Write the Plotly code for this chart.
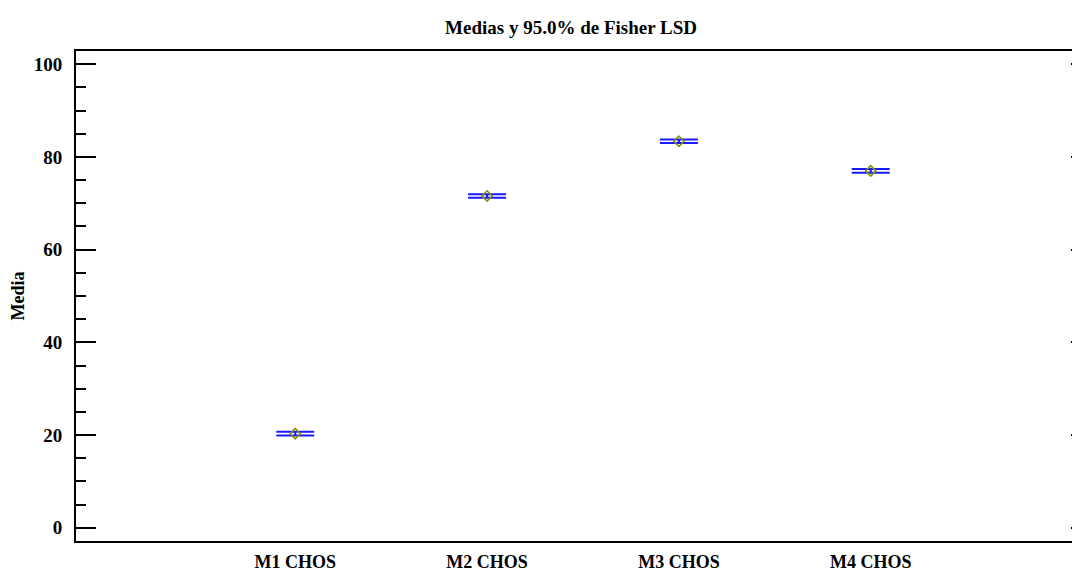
import plotly.graph_objects as go

categories = ["M1 CHOS", "M2 CHOS", "M3 CHOS", "M4 CHOS"]
means = [20.3, 71.6, 83.4, 77.0]
half_interval = [0.38, 0.38, 0.38, 0.38]
y_ticks = [0, 20, 40, 60, 80, 100]

FONT = "Liberation Serif"
idx = list(range(len(categories)))

# the page body has an 8px margin, so the figure is sized/offset to compensate
W, H = 1072, 565

fig = go.Figure()
fig.add_trace(go.Scatter(
    x=idx, y=means, mode="markers",
    marker=dict(symbol="diamond-open", size=8, color="#8c8c00", line=dict(width=1.5)),
    error_y=dict(type="data", array=half_interval, symmetric=True,
                 color="#1a1aff", thickness=2, width=19),
    showlegend=False, hoverinfo="x+y",
))
fig.add_trace(go.Scatter(x=[idx[0]], y=[means[0]], yaxis="y2", mode="markers",
                         marker=dict(opacity=0), showlegend=False, hoverinfo="skip"))

fig.update_layout(
    width=W, height=H,
    margin=dict(l=68, r=0, t=43, b=32, autoexpand=False),
    paper_bgcolor="white", plot_bgcolor="white",
    font=dict(family=FONT, size=19, color="black"),
    title=dict(text="<b>Medias y 95.0% de Fisher LSD</b>", x=(571 - 76) / 1004, xref="paper",
               xanchor="center", y=1 - 19 / H, yref="container", yanchor="middle",
               font=dict(family=FONT, size=19, color="black")),
    xaxis=dict(range=[-1.143, 4.091], tickmode="array", tickvals=idx,
               ticktext=[f"<b>{c}</b>" for c in categories],
               showgrid=False, zeroline=False, showline=True, linecolor="black",
               linewidth=2, mirror=True, ticks="", ticklabelstandoff=3,
               automargin=False,
               tickfont=dict(family=FONT, size=18, color="black")),
    yaxis=dict(range=[-2.87, 102.87], tickmode="array", tickvals=y_ticks,
               ticktext=[f"<b>{v}</b>" for v in y_ticks],
               showgrid=False, zeroline=False, showline=True, linecolor="black",
               linewidth=2, mirror=False, ticks="inside", ticklen=20, tickwidth=2,
               tickcolor="black", ticklabelstandoff=8, automargin=False,
               minor=dict(dtick=5, tick0=0, ticks="inside", ticklen=10, tickwidth=2,
                          tickcolor="black", showgrid=False),
               title=dict(text="<b>Media</b>", standoff=10,
                          font=dict(family=FONT, size=18, color="black")),
               tickfont=dict(family=FONT, size=19, color="black")),
    yaxis2=dict(range=[-2.87, 102.87], overlaying="y", side="right",
                tickmode="array", tickvals=y_ticks, showticklabels=False,
                showgrid=False, zeroline=False, showline=False, automargin=False,
                ticks="inside", ticklen=9, tickwidth=2, tickcolor="black"),
)

fig.write_html("out.html")
